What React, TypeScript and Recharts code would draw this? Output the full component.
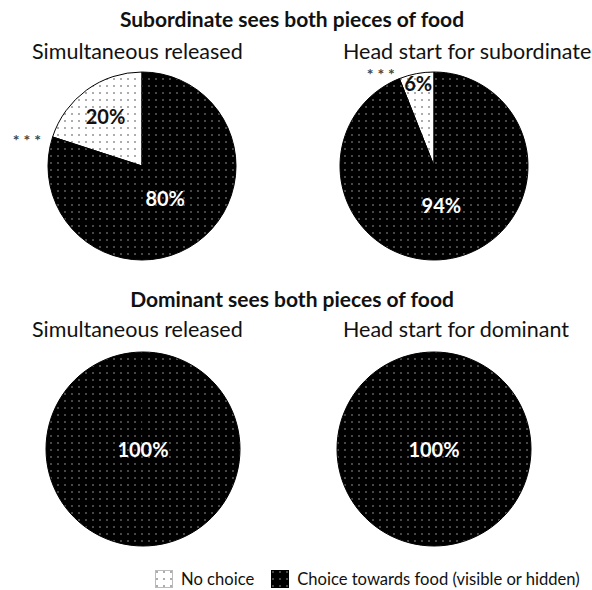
import { PieChart, Pie, Cell } from "recharts";

const categories = ["No choice", "Choice towards food (visible or hidden)"];

// percent of trials per condition: [no choice, choice]
const subSimultaneous = [20, 80];
const subHeadStart = [6, 94];
const domSimultaneous = [0, 100];
const domHeadStart = [0, 100];

const sigSubSimultaneous = "* * *";
const sigSubHeadStart = "* * *";

const titles = ["Subordinate sees both pieces of food", "Dominant sees both pieces of food"];
const subtitles = ["Simultaneous released", "Head start for subordinate", "Simultaneous released", "Head start for dominant"];

const FONT = "Lato, 'Open Sans', sans-serif";
const fills = ["url(#dotsWhite)", "url(#dotsBlack)"];

function toRows(values: number[], sig?: string) {
  return values.map((v, i) => ({ name: categories[i], value: v, sig: i === 0 ? sig : undefined }));
}

const RAD = Math.PI / 180;

function renderLabel(props: any) {
  const { cx, cy, midAngle, endAngle, outerRadius, percent, value, index, payload } = props;
  if (!value) return null;
  let f = 0.42;
  if (percent >= 0.999) f = 0;
  else if (percent < 0.1) f = 0.9;
  else if (percent < 0.5) f = 0.66;
  const r = outerRadius * f;
  const x = cx + r * Math.cos(-midAngle * RAD);
  const y = cy + r * Math.sin(-midAngle * RAD);
  const sig = payload && payload.sig;
  const sr = outerRadius * 1.13;
  const sx = cx + sr * Math.cos(-endAngle * RAD);
  const sy = cy + sr * Math.sin(-endAngle * RAD);
  return (
    <g>
      <text x={x} y={y} textAnchor="middle" dominantBaseline="central"
        fill={index === 0 ? "#111" : "#fff"} fontSize={20} fontWeight="bold" fontFamily={FONT}>
        {`${value}%`}
      </text>
      {sig && (
        <text x={sx} y={sy + 6} textAnchor="end" dominantBaseline="central" fill="#444" fontSize={16}
          fontWeight="bold" fontFamily={FONT}>
          {sig}
        </text>
      )}
    </g>
  );
}

const pies = [
  { data: toRows(subSimultaneous, sigSubSimultaneous), cx: 142, cy: 166, r: 94 },
  { data: toRows(subHeadStart, sigSubHeadStart), cx: 434, cy: 166, r: 94 },
  { data: toRows(domSimultaneous), cx: 143, cy: 449, r: 97 },
  { data: toRows(domHeadStart), cx: 434, cy: 449, r: 97 },
];

const txt = (left: number, top: number, s: string, size: number, bold = false, width?: number) => (
  <div style={{ position: "absolute", left, top, width, textAlign: width ? "center" : "left", fontSize: size,
    fontWeight: bold ? 700 : 400, fontFamily: FONT, color: "#111", whiteSpace: "nowrap", lineHeight: 1 }}>
    {s}
  </div>
);

export default function App() {
  return (
    <div style={{ position: "fixed", left: 0, top: 0, width: 592, height: 590, background: "#fff", overflow: "hidden" }}>
      <PieChart width={592} height={590} margin={{ top: 0, right: 0, bottom: 0, left: 0 }}>
        <defs>
          <pattern id="dotsWhite" width="7" height="7" patternUnits="userSpaceOnUse">
            <rect width="7" height="7" fill="#fff" />
            <circle cx="2" cy="2" r="0.8" fill="#444" />
          </pattern>
          <pattern id="dotsBlack" width="7" height="7" patternUnits="userSpaceOnUse">
            <rect width="7" height="7" fill="#000" />
            <circle cx="2" cy="2" r="0.75" fill="#b0b0b0" />
          </pattern>
        </defs>
        {pies.map((p, k) => (
          <Pie key={k} data={p.data} dataKey="value" nameKey="name" cx={p.cx} cy={p.cy} outerRadius={p.r}
            startAngle={90} endAngle={450} stroke="#000" strokeWidth={1} label={renderLabel} labelLine={false}
            isAnimationActive={false}>
            {p.data.map((_, i) => <Cell key={i} fill={fills[i]} />)}
          </Pie>
        ))}
      </PieChart>
      {txt(0, 8, titles[0], 21, true, 584)}
      {txt(32, 41, subtitles[0], 21.5)}
      {txt(343, 41, subtitles[1], 21.5)}
      {txt(0, 288, titles[1], 21, true, 584)}
      {txt(32, 319, subtitles[2], 21.5)}
      {txt(343, 319, subtitles[3], 21.5)}
      <div style={{ position: "absolute", left: 155, top: 569, display: "flex", alignItems: "center", fontFamily: FONT, fontSize: 16.6, color: "#111" }}>
        <svg width={18} height={18}><rect x={0.5} y={0.5} width={17} height={17} fill={fills[0]} stroke="#777" strokeDasharray="1 1" /></svg>
        <span style={{ marginLeft: 8 }}>{categories[0]}</span>
        <svg width={18} height={18} style={{ marginLeft: 17 }}><rect width={18} height={18} fill={fills[1]} /></svg>
        <span style={{ marginLeft: 8 }}>{categories[1]}</span>
      </div>
    </div>
  );
}
